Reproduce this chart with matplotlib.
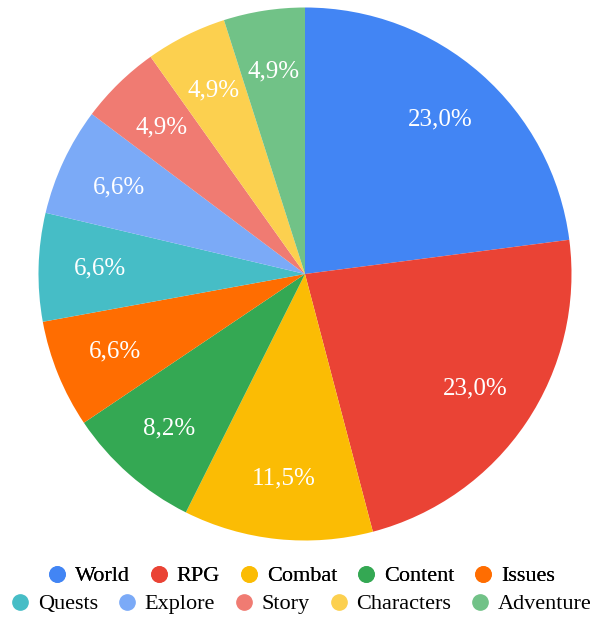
import matplotlib.pyplot as plt
from matplotlib.lines import Line2D

plt.rcParams['font.family'] = ['Liberation Serif', 'DejaVu Serif']

categories = ["World", "RPG", "Combat", "Content", "Issues",
              "Quests", "Explore", "Story", "Characters", "Adventure"]
mentions = [14, 14, 7, 5, 4, 4, 4, 3, 3, 3]
colors = ["#4285F4", "#EA4335", "#FBBC04", "#34A853", "#FF6D01",
          "#46BDC6", "#7BAAF7", "#F07B72", "#FCD04F", "#71C287"]

fig = plt.figure(figsize=(6.01, 6.19), dpi=100)
ax = fig.add_axes([38.5 / 601, 78.5 / 619, 533 / 601, 533 / 619])

wedges, texts, autotexts = ax.pie(
    mentions, colors=colors, startangle=90, counterclock=False,
    autopct=lambda p: f"{p:.1f}%".replace(".", ","), pctdistance=0.77,
    wedgeprops=dict(linewidth=0),
    textprops=dict(color="white", fontsize=18))
ax.set_xlim(-1, 1)
ax.set_ylim(-1, 1)
ax.set_aspect("equal")

# legend in two centred rows of five
def legend_row(names, cols, y):
    handles = [Line2D([], [], marker="o", linestyle="", markersize=11,
                      markerfacecolor=c, markeredgecolor=c) for c in cols]
    return fig.legend(handles, names, loc="center", bbox_to_anchor=(0.5, y),
                      ncol=5, frameon=False, fontsize=16, handletextpad=0.3,
                      columnspacing=0.8, handlelength=1.0, borderpad=0)

fig.add_artist(legend_row(categories[:5], colors[:5], 1 - 576 / 619))
legend_row(categories[5:], colors[5:], 1 - 604 / 619)

fig.savefig("out.png", dpi=100)
